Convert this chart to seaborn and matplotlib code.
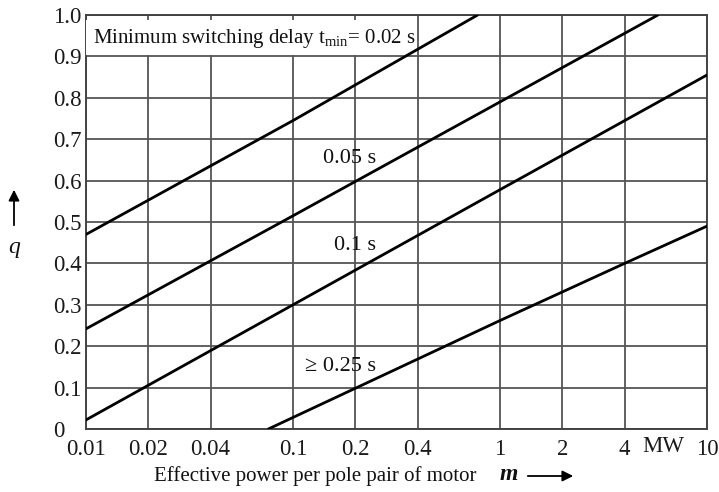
import numpy as np
import pandas as pd
import matplotlib.pyplot as plt
import seaborn as sns
from matplotlib.patches import Rectangle

# Curves: m in MW, q dimensionless
m_002 = [0.01, 0.1, 0.78]
q_002 = [0.47, 0.745, 1.0]
m_005 = [0.01, 0.1, 1.0, 5.8]
q_005 = [0.242, 0.515, 0.79, 1.0]
m_01 = [0.01, 0.1, 1.0, 10.0]
q_01 = [0.022, 0.30, 0.578, 0.855]
m_025 = [0.076, 1.0, 4.0, 10.0]
q_025 = [0.0, 0.262, 0.40, 0.49]

x_ticks = [0.01, 0.02, 0.04, 0.1, 0.2, 0.4, 1, 2, 4, 10]
x_labels = ["0.01", "0.02", "0.04", "0.1", "0.2", "0.4", "1", "2", "4", "10"]
y_ticks = [0, 0.1, 0.2, 0.3, 0.4, 0.5, 0.6, 0.7, 0.8, 0.9, 1.0]
y_labels = ["0", "0.1", "0.2", "0.3", "0.4", "0.5", "0.6", "0.7", "0.8", "0.9", "1.0"]

frames = []
for name, m, q in [("0.02", m_002, q_002), ("0.05", m_005, q_005),
                   ("0.1", m_01, q_01), ("0.25", m_025, q_025)]:
    frames.append(pd.DataFrame({"m": m, "q": q, "tmin": name}))
df = pd.concat(frames, ignore_index=True)

sns.set_style("white")
plt.rcParams['font.family'] = ['Liberation Serif', 'DejaVu Serif']
plt.rcParams['mathtext.fontset'] = 'custom'
plt.rcParams['mathtext.rm'] = 'Liberation Serif'
plt.rcParams['mathtext.it'] = 'Liberation Serif:italic'

fig = plt.figure(figsize=(7.19, 4.92), dpi=100)
ax = fig.add_axes([0.1196, 0.128, 0.8636, 0.8415])

sns.lineplot(data=df, x="m", y="q", units="tmin", estimator=None,
             color="black", linewidth=2.0, ax=ax, zorder=5, sort=False)

ax.set_xscale("log")
ax.set_xlim(0.01, 10)
ax.set_ylim(0, 1.0)
ax.set_xticks(x_ticks)
ax.set_xticklabels(x_labels)
ax.minorticks_off()
ax.set_yticks(y_ticks)
ax.set_yticklabels(y_labels, ha="left")
ax.tick_params(axis="both", length=0, labelsize=16.5, colors="#1a1a1a")
ax.tick_params(axis="x", pad=7)
ax.tick_params(axis="y", pad=23.8)
ax.grid(True, color="#555555", linewidth=1.3)
for s in ax.spines.values():
    s.set_color("#444444")
    s.set_linewidth(1.4)
ax.set_xlabel("")
ax.set_ylabel("")

# header box
ax.add_patch(Rectangle((0.0, 0.903), 0.533, 0.085, transform=ax.transAxes,
                       facecolor="white", edgecolor="none", zorder=3))
ax.text(0.011, 0.932, r"Minimum switching delay t$_{\rm min}$= 0.02 s",
        transform=ax.transAxes, fontsize=15, va="baseline", ha="left",
        color="#111111", zorder=4)

# curve labels
ax.text(0.188, 0.654, "0.05 s", fontsize=16, ha="center", va="center", color="#111111")
ax.text(0.20, 0.443, "0.1 s", fontsize=16, ha="center", va="center", color="#111111")
ax.text(0.169, 0.15, "\u2265 0.25 s", fontsize=16, ha="center", va="center", color="#111111")

# MW unit between 4 and 10
fig.text(663 / 719, 1 - 446 / 492, "MW", fontsize=16.5, ha="center", va="center", color="#1a1a1a")

# axis labels with arrows
fig.text(315 / 719, 1 - 476 / 492, "Effective power per pole pair of motor",
         fontsize=15, ha="center", va="center", color="#111111")
fig.text(509 / 719, 1 - 475 / 492, "m", fontsize=17, style="italic", weight="bold",
         ha="center", va="center", color="#111111")
ax.annotate("", xy=(576 / 719, 1 - 476 / 492), xytext=(525 / 719, 1 - 476 / 492),
            xycoords="figure fraction", textcoords="figure fraction",
            arrowprops=dict(arrowstyle="-|>", color="black", lw=1.3, mutation_scale=16))
fig.text(14 / 719, 1 - 248 / 492, "q", fontsize=17, style="italic",
         ha="center", va="center", color="#111111")
ax.annotate("", xy=(14 / 719, 1 - 187 / 492), xytext=(14 / 719, 1 - 228 / 492),
            xycoords="figure fraction", textcoords="figure fraction",
            arrowprops=dict(arrowstyle="-|>", color="black", lw=1.3, mutation_scale=16))

fig.savefig("out.png", dpi=100)
